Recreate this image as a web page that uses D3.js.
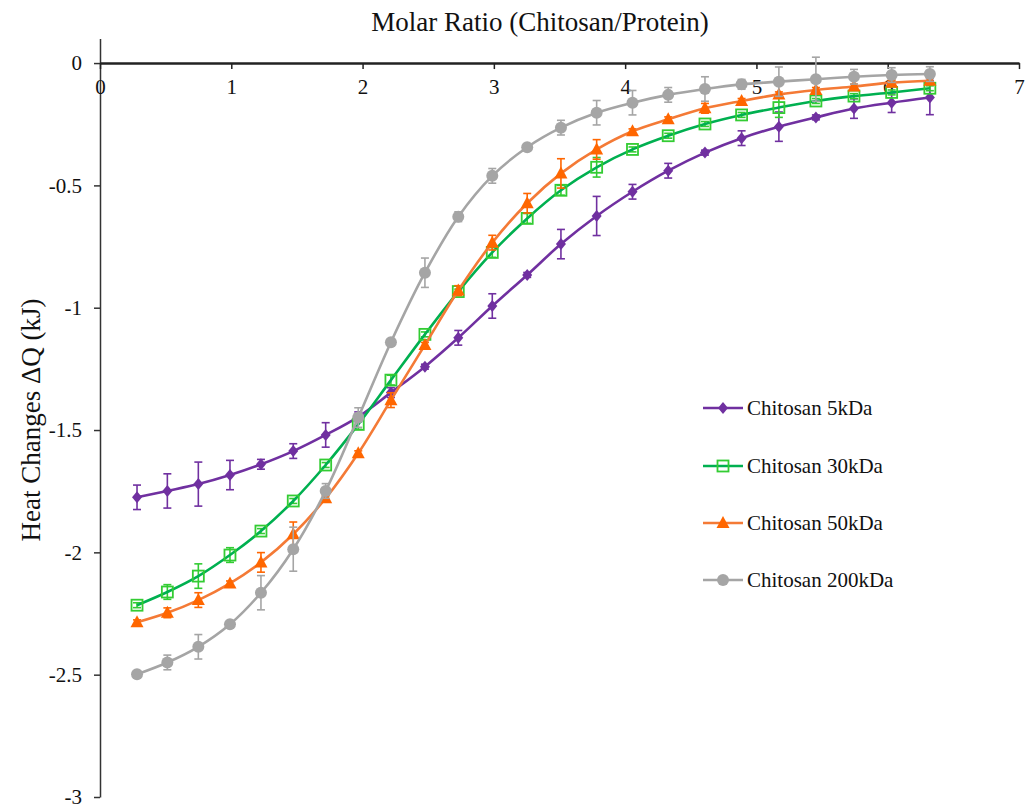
<!DOCTYPE html>
<html>
<head>
<meta charset="utf-8">
<script src="https://cdn.jsdelivr.net/npm/d3@7"></script>
<style>
  body { margin: 0; background: #fff; }
  svg text { font-family: "Liberation Serif", "Times New Roman", serif; fill: #111; }
</style>
</head>
<body>
<script>
// molar ratio at each injection
const ratio = [0.282, 0.513, 0.749, 0.990, 1.226, 1.472, 1.719, 1.967, 2.216, 2.475, 2.729, 2.988,
  3.254, 3.511, 3.783, 4.056, 4.328, 4.608, 4.887, 5.171, 5.453, 5.743, 6.030, 6.321];

const names = ['Chitosan 5kDa', 'Chitosan 30kDa', 'Chitosan 50kDa', 'Chitosan 200kDa'];

const q5 = [-1.775, -1.749, -1.721, -1.684, -1.640, -1.586, -1.520, -1.446, -1.347, -1.241, -1.123, -0.993,
  -0.866, -0.740, -0.625, -0.526, -0.440, -0.366, -0.307, -0.260, -0.222, -0.186, -0.162, -0.141];
const e5 = [0.05, 0.07, 0.09, 0.06, 0.02, 0.03, 0.05, 0.02, 0.02, 0.01, 0.03, 0.05,
  0.01, 0.06, 0.08, 0.03, 0.03, 0.01, 0.03, 0.06, 0.01, 0.04, 0.04, 0.07];

const q30 = [-2.216, -2.162, -2.097, -2.011, -1.913, -1.790, -1.643, -1.477, -1.296, -1.109, -0.934, -0.774,
  -0.635, -0.520, -0.426, -0.353, -0.297, -0.249, -0.212, -0.182, -0.155, -0.135, -0.120, -0.103];
const e30 = [0.01, 0.03, 0.05, 0.03, 0.01, 0.01, 0.01, 0.02, 0.02, 0.01, 0.01, 0.02,
  0.02, 0.02, 0.04, 0.01, 0.01, 0.01, 0.01, 0.04, 0.01, 0.01, 0.01, 0.01];

const q50 = [-2.286, -2.247, -2.195, -2.127, -2.041, -1.926, -1.779, -1.595, -1.378, -1.152, -0.930, -0.734,
  -0.573, -0.451, -0.353, -0.279, -0.230, -0.185, -0.155, -0.128, -0.110, -0.096, -0.080, -0.072];
const e50 = [0.01, 0.02, 0.03, 0.01, 0.04, 0.05, 0.01, 0.01, 0.03, 0.01, 0.02, 0.03,
  0.04, 0.06, 0.04, 0.01, 0.01, 0.02, 0.01, 0.01, 0.01, 0.01, 0.01, 0.01];

const q200 = [-2.498, -2.450, -2.386, -2.294, -2.165, -1.987, -1.749, -1.449, -1.141, -0.857, -0.628, -0.461,
  -0.344, -0.264, -0.203, -0.162, -0.130, -0.106, -0.087, -0.076, -0.066, -0.056, -0.049, -0.045];
const e200 = [0.01, 0.03, 0.05, 0.01, 0.07, 0.09, 0.03, 0.04, 0.01, 0.06, 0.02, 0.03,
  0.01, 0.03, 0.05, 0.05, 0.03, 0.05, 0.02, 0.06, 0.09, 0.03, 0.03, 0.03];

const xTicks = [0, 1, 2, 3, 4, 5, 6, 7];
const yTicks = [0, -0.5, -1, -1.5, -2, -2.5, -3];

const series = [
  { name: names[0], q: q5, e: e5, line: '#7030a0', mark: '#7030a0', shape: 'diamond' },
  { name: names[1], q: q30, e: e30, line: '#00b050', mark: '#33cc33', shape: 'square' },
  { name: names[2], q: q50, e: e50, line: '#f47a36', mark: '#ff6600', shape: 'triangle' },
  { name: names[3], q: q200, e: e200, line: '#a5a5a5', mark: '#a5a5a5', shape: 'circle' }
];

const W = 1027, H = 810;
const svg = d3.select('body').append('svg')
  .attr('width', W)
  .attr('height', H);

const x = d3.scaleLinear().domain([0, 7]).range([100, 1019]);
const y = d3.scaleLinear().domain([-3, 0.1]).range([797, 38.6]);

// axe Y
const gy = svg.append('g')
  .attr('transform', `translate(${x(0)},0)`)
  .call(d3.axisLeft(y).tickValues(yTicks).tickSize(6).tickPadding(12).tickSizeOuter(0)
    .tickFormat(d => String(d)));
gy.select('.domain').attr('stroke', '#333').attr('stroke-width', 1.5);
gy.selectAll('.tick line').attr('stroke', '#333').attr('stroke-width', 1.5);
gy.selectAll('.tick text').style('font-size', '21px');

// axe X (en haut, à y = 0)
const gx = svg.append('g')
  .attr('transform', `translate(0,${y(0)})`)
  .call(d3.axisBottom(x).tickValues(xTicks).tickSize(6).tickPadding(10).tickSizeOuter(0)
    .tickFormat(d3.format('d')));
gx.select('.domain').attr('stroke', '#222').attr('stroke-width', 2.5);
gx.selectAll('.tick line').attr('stroke', '#222').attr('stroke-width', 1.5);
gx.selectAll('.tick text').style('font-size', '21px');

svg.append('text')
  .attr('x', 540)
  .attr('y', 31)
  .attr('text-anchor', 'middle')
  .style('font-size', '27px')
  .text('Molar Ratio (Chitosan/Protein)');

svg.append('text')
  .attr('transform', 'translate(40,420) rotate(-90)')
  .attr('text-anchor', 'middle')
  .style('font-size', '27px')
  .text('Heat Changes ΔQ (kJ)');

const line = d3.line()
  .x(d => x(d[0]))
  .y(d => y(d[1]))
  .curve(d3.curveCatmullRom.alpha(0.5));

function drawMarker(g, shape, color) {
  if (shape === 'diamond') {
    g.append('path').attr('d', 'M0,-6L5,0L0,6L-5,0Z').attr('fill', color);
  } else if (shape === 'square') {
    g.append('rect').attr('x', -5.5).attr('y', -5.5).attr('width', 11).attr('height', 11)
      .attr('fill', 'none').attr('stroke', color).attr('stroke-width', 1.8);
  } else if (shape === 'triangle') {
    g.append('path').attr('d', 'M0,-7L6.5,5L-6.5,5Z').attr('fill', color);
  } else {
    g.append('circle').attr('r', 6).attr('fill', color);
  }
}

series.forEach(s => {
  const pts = ratio.map((r, i) => [r, s.q[i], s.e[i]]);
  const g = svg.append('g');

  // barres d'erreur
  const eb = g.selectAll('.eb').data(pts).join('g').attr('class', 'eb')
    .attr('stroke', s.mark).attr('stroke-width', 1.6);
  eb.append('line')
    .attr('x1', d => x(d[0])).attr('x2', d => x(d[0]))
    .attr('y1', d => y(d[1] + d[2])).attr('y2', d => y(d[1] - d[2]));
  eb.append('line')
    .attr('x1', d => x(d[0]) - 4).attr('x2', d => x(d[0]) + 4)
    .attr('y1', d => y(d[1] + d[2])).attr('y2', d => y(d[1] + d[2]));
  eb.append('line')
    .attr('x1', d => x(d[0]) - 4).attr('x2', d => x(d[0]) + 4)
    .attr('y1', d => y(d[1] - d[2])).attr('y2', d => y(d[1] - d[2]));

  g.append('path')
    .datum(pts)
    .attr('d', line)
    .attr('fill', 'none')
    .attr('stroke', s.line)
    .attr('stroke-width', 2.6);

  g.selectAll('.pt').data(pts).join('g').attr('class', 'pt')
    .attr('transform', d => `translate(${x(d[0])},${y(d[1])})`)
    .each(function () { drawMarker(d3.select(this), s.shape, s.mark); });
});

// légende
const legendY = [408, 466, 523, 580];
const legend = svg.append('g');
series.forEach((s, i) => {
  const lg = legend.append('g').attr('transform', `translate(703,${legendY[i]})`);
  lg.append('line').attr('x1', 0).attr('x2', 40).attr('y1', 0).attr('y2', 0)
    .attr('stroke', s.line).attr('stroke-width', 2.6);
  const m = lg.append('g').attr('transform', 'translate(20,0)');
  drawMarker(m, s.shape, s.mark);
  lg.append('text').attr('x', 44).attr('y', 0).attr('dy', '0.35em')
    .style('font-size', '21px').text(s.name);
});
</script>
</body>
</html>
